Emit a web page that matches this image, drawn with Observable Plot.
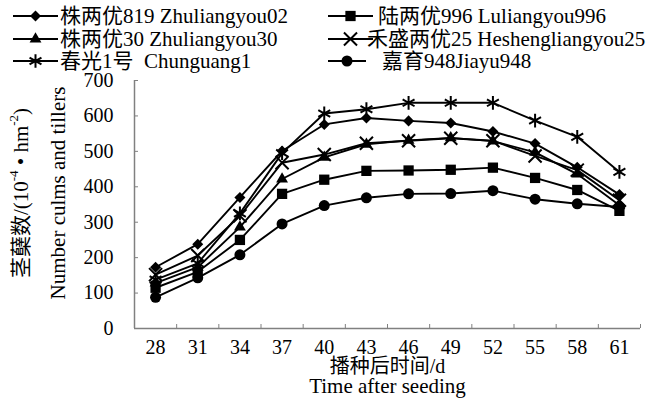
<!DOCTYPE html>
<html><head><meta charset="utf-8">
<script src="https://cdn.jsdelivr.net/npm/d3@7"></script>
<script src="https://cdn.jsdelivr.net/npm/@observablehq/plot@0.6"></script>
<style>
body{margin:0;background:#fff;}
#wrap{position:relative;width:652px;height:408px;font-family:"Liberation Serif","Noto Sans CJK SC",serif;color:#000;}
.leg{position:absolute;display:flex;align-items:center;font-size:21px;white-space:pre;line-height:1;height:22px;}
.leg svg{flex:none;overflow:visible;}
</style></head><body><div id="wrap"></div>
<script>
// categories (days after seeding)
const days = [28, 31, 34, 37, 40, 43, 46, 49, 52, 55, 58, 61];
const yTicks = [0, 100, 200, 300, 400, 500, 600, 700];
// series values (10^4 / hm^2)
const zhuliangyou02 = [173, 238, 370, 501, 576, 594, 586, 580, 556, 522, 455, 378];
const luliangyou996 = [115, 160, 250, 380, 420, 445, 446, 448, 454, 425, 391, 332];
const zhuliangyou30 = [128, 173, 286, 422, 483, 520, 531, 538, 529, 497, 436, 348];
const heshengliangyou25 = [152, 206, 318, 468, 491, 523, 530, 537, 530, 487, 447, 362];
const chunguang1 = [138, 184, 325, 495, 607, 619, 637, 637, 637, 587, 541, 442];
const jiayu948 = [88, 143, 208, 295, 347, 369, 380, 381, 389, 365, 352, 343];
const seriesNames = ["株两优819 Zhuliangyou02", "陆两优996 Luliangyou996", "株两优30 Zhuliangyou30",
  "禾盛两优25 Heshengliangyou25", "春光1号  Chunguang1", "嘉育948Jiayu948"];
const seriesValues = [zhuliangyou02, luliangyou996, zhuliangyou30, heshengliangyou25, chunguang1, jiayu948];
const xTitleCN = "播种后时间/d";
const xTitleEN = "Time after seeding";
const yTitleEN = "Number culms and tillers";

// marker styles
const markers = [
  {symbol: "square", r: 4.4, rotate: 45, fill: "black"},
  {symbol: "square", r: 5.8, fill: "black"},
  {symbol: "triangle", r: 4.4, fill: "black"},
  {symbol: "times", r: 6, fill: "none", stroke: "black", strokeWidth: 2},
  {symbol: "asterisk", r: 6.5, fill: "none", stroke: "black", strokeWidth: 2},
  {symbol: "circle", r: 5.5, fill: "black"}
];

const rows = seriesNames.map((name, s) => days.map((d, i) => ({day: d, value: seriesValues[s][i], series: name})));
const xDomain = [days[0] - 1.5, days[days.length - 1] + 1.5];
const boundaries = days.map(d => d + 1.5);
const axisGray = "#808080";
const font = '"Liberation Serif","Noto Sans CJK SC",serif';

const marks = [
  Plot.ruleX([xDomain[0]], {stroke: axisGray, strokeWidth: 1.5}),
  Plot.ruleY([0], {stroke: axisGray, strokeWidth: 1.5}),
  Plot.axisX(days, {tickSize: 0, tickPadding: 11, fontSize: 20, label: null, tickFormat: d => String(d)}),
  Plot.axisX(boundaries, {tickSize: -4, stroke: axisGray, label: null, tickFormat: () => ""}),
  Plot.axisY(yTicks, {tickSize: 0, tickPadding: 21, fontSize: 20, label: null}),
  Plot.axisY(yTicks, {tickSize: -4, stroke: axisGray, label: null, tickFormat: () => ""}),
  ...rows.map(r => Plot.line(r, {x: "day", y: "value", stroke: "black", strokeWidth: 1.9})),
  ...rows.map((r, s) => {
    const m = markers[s];
    return Plot.dot(r, {x: "day", y: "value", symbol: m.symbol, r: m.r, rotate: m.rotate || 0,
      fill: m.fill, stroke: m.stroke || "none", strokeWidth: m.strokeWidth || 1});
  }),
  Plot.text([xTitleCN], {frameAnchor: "bottom", dy: 38, fontSize: 20, lineAnchor: "middle"}),
  Plot.text([xTitleEN], {frameAnchor: "bottom", dy: 58, fontSize: 21, lineAnchor: "middle"})
];

const chart = Plot.plot({
  width: 652, height: 408,
  marginLeft: 134, marginRight: 12, marginTop: 80, marginBottom: 80,
  x: {type: "linear", domain: xDomain},
  y: {type: "linear", domain: [0, 700]},
  style: {fontFamily: font, color: "black", background: "white"},
  marks
});
const wrap = document.getElementById("wrap");
wrap.appendChild(chart);

// rotated y-axis titles
const svgSel = d3.select(chart.tagName.toLowerCase() === "svg" ? chart : chart.querySelector("svg"));
const cy = 193;
const t1 = svgSel.append("text").attr("transform", `translate(21,${cy}) rotate(-90)`)
  .attr("text-anchor", "middle").attr("dominant-baseline", "central")
  .attr("font-size", 21).attr("font-family", font).attr("fill", "black");
t1.append("tspan").text("茎蘖数/(10");
t1.append("tspan").attr("font-size", 13).attr("dy", -8).text("-4");
t1.append("tspan").attr("dy", 8).text(" • hm");
t1.append("tspan").attr("font-size", 13).attr("dy", -8).text("-2");
t1.append("tspan").attr("dy", 8).text(")");
svgSel.append("text").attr("transform", `translate(58,${cy}) rotate(-90)`)
  .attr("text-anchor", "middle").attr("dominant-baseline", "central")
  .attr("font-size", 21).attr("font-family", font).attr("fill", "black").text(yTitleEN);

// legend (HTML overlay)
const legendPos = [
  {left: 13, top: 5, lineW: 45, gap: 2},
  {left: 328, top: 5, lineW: 45, gap: 5},
  {left: 13, top: 28, lineW: 45, gap: 2},
  {left: 328, top: 28, lineW: 45, gap: -6},
  {left: 13, top: 50, lineW: 45, gap: 2},
  {left: 328, top: 50, lineW: 38, gap: 16}
];
const symMap = {square: d3.symbolSquare, triangle: d3.symbolTriangle, times: d3.symbolTimes,
  asterisk: d3.symbolAsterisk, circle: d3.symbolCircle};
seriesNames.forEach((name, s) => {
  const p = legendPos[s], m = markers[s];
  const div = document.createElement("div");
  div.className = "leg";
  div.style.left = p.left + "px";
  div.style.top = p.top + "px";
  const svg = d3.create("svg").attr("width", p.lineW).attr("height", 22);
  svg.append("line").attr("x1", 0).attr("x2", p.lineW).attr("y1", 11).attr("y2", 11)
    .attr("stroke", "black").attr("stroke-width", 2);
  svg.append("path").attr("d", d3.symbol(symMap[m.symbol], Math.PI * m.r * m.r)())
    .attr("transform", `translate(${p.lineW / 2},11) rotate(${m.rotate || 0})`)
    .attr("fill", m.fill).attr("stroke", m.stroke || "none").attr("stroke-width", m.strokeWidth || 1);
  div.appendChild(svg.node());
  const span = document.createElement("span");
  span.textContent = name;
  span.style.marginLeft = p.gap + "px";
  div.appendChild(span);
  wrap.appendChild(div);
});
</script>
</body></html>
